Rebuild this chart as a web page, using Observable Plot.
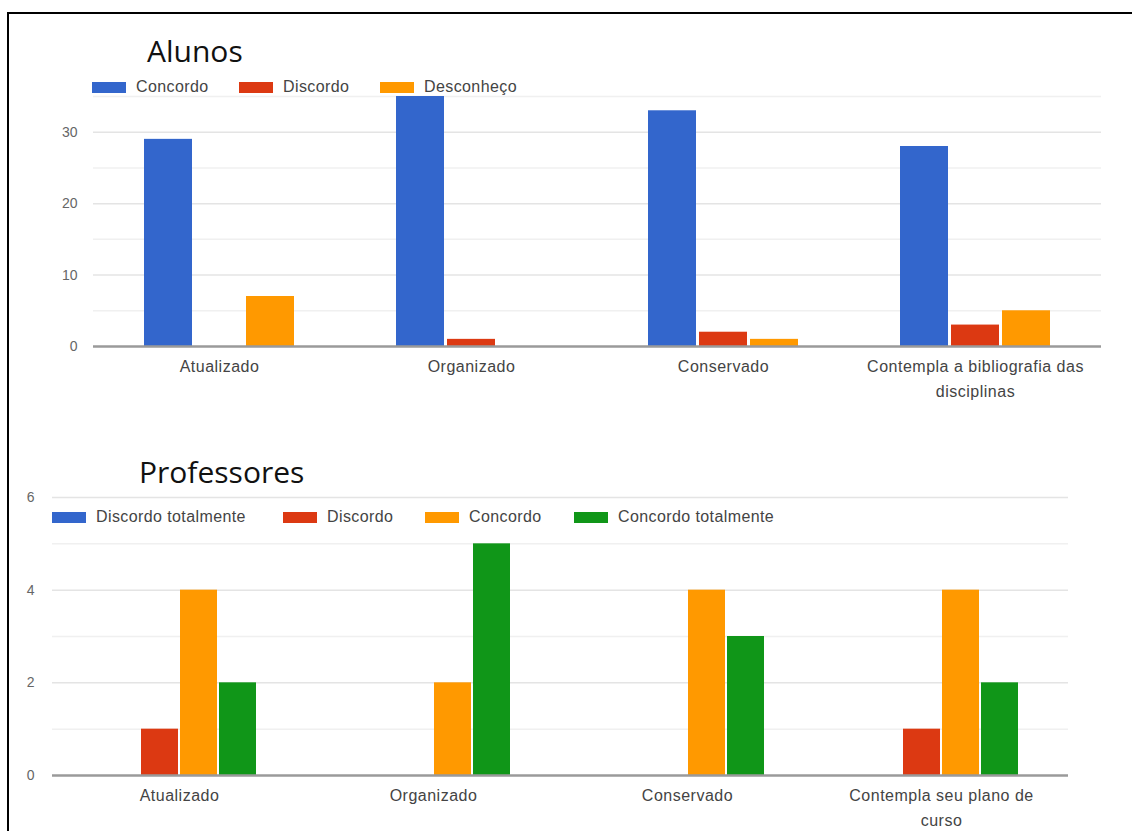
<!DOCTYPE html>
<html>
<head>
<meta charset="utf-8">
<script src="https://cdn.jsdelivr.net/npm/d3@7"></script>
<script src="https://cdn.jsdelivr.net/npm/@observablehq/plot@0.6"></script>
<style>
  html, body { margin: 0; padding: 0; background: #fff; }
  #page { position: relative; width: 1132px; height: 831px; overflow: hidden; background: #fff; }
  #frame { position: absolute; left: 7px; top: 12px; width: 1140px; height: 900px; border-left: 2px solid #000; border-top: 2px solid #000; }
  .chart { position: absolute; left: 0; }
  .chart svg g[aria-label="fx-axis tick label"] text { letter-spacing: 0.5px; }
  .title { position: absolute; font-family: "Open Sans", "Noto Sans", sans-serif; font-size: 30px; color: #111; line-height: 1; }
  .legend { position: absolute; font-family: "Liberation Sans", Arial, sans-serif; font-size: 16px; letter-spacing: 0.4px; color: #444; white-space: nowrap; height: 20px; }
  .legend .item { display: flex; align-items: center; position: absolute; top: 0; height: 20px; }
  .legend .sw { display: inline-block; width: 34px; height: 11px; margin-right: 10px; }
</style>
</head>
<body>
<div id="page">
  <div id="frame"></div>
  <div id="top" class="chart" style="top:0px"></div>
  <div id="bottom" class="chart" style="top:420px"></div>
  <div class="title" style="left:147px; top:36px">Alunos</div>
  <div class="title" style="left:139px; top:457px">Professores</div>
  <div id="legTop" class="legend" style="left:0; top:77px"></div>
  <div id="legBottom" class="legend" style="left:0; top:507px"></div>
</div>
<script>
// ---------- Data ----------
const alunosCategories = ["Atualizado", "Organizado", "Conservado", "Contempla a bibliografia das disciplinas"];
const alunosLabels = ["Atualizado", "Organizado", "Conservado", "Contempla a bibliografia das\ndisciplinas"];
const alunosSeries = ["Concordo", "Discordo", "Desconheço"];
const alunosConcordo = [29, 35, 33, 28];
const alunosDiscordo = [0, 1, 2, 3];
const alunosDesconheco = [7, 0, 1, 5];
const alunosColors = ["#3366cc", "#dc3912", "#ff9900"];

const profCategories = ["Atualizado", "Organizado", "Conservado", "Contempla seu plano de curso"];
const profLabels = ["Atualizado", "Organizado", "Conservado", "Contempla seu plano de\ncurso"];
const profSeries = ["Discordo totalmente", "Discordo", "Concordo", "Concordo totalmente"];
const profDiscordoTotalmente = [0, 0, 0, 0];
const profDiscordo = [1, 0, 0, 1];
const profConcordo = [4, 2, 4, 4];
const profConcordoTotalmente = [2, 5, 3, 2];
const profColors = ["#3366cc", "#dc3912", "#ff9900", "#109618"];

const alunosTicks = [0, 10, 20, 30];
const alunosMajor = [10, 20, 30];
const alunosMinor = [5, 15, 25, 35];
const profTicks = [0, 2, 4, 6];
const profMajor = [2, 4, 6];
const profMinor = [1, 3, 5];

function toTable(categories, series, valueArrays) {
  const rows = [];
  categories.forEach((c, i) => series.forEach((s, j) => rows.push({category: c, series: s, value: valueArrays[j][i]})));
  return rows;
}

const alunosData = toTable(alunosCategories, alunosSeries, [alunosConcordo, alunosDiscordo, alunosDesconheco]);
const profData = toTable(profCategories, profSeries, [profDiscordoTotalmente, profDiscordo, profConcordo, profConcordoTotalmente]);

function groupedChart({data, categories, labels, series, colors, width, height, margins, yDomain, ticks, majorGrid, minorGrid, paddingOuter, yPad}) {
  const labelOf = new Map(categories.map((c, i) => [c, labels[i]]));
  return Plot.plot({
    width, height,
    marginLeft: margins.left, marginRight: margins.right, marginTop: margins.top, marginBottom: margins.bottom,
    style: {fontFamily: "'Liberation Sans', Arial, sans-serif", fontSize: "16px", color: "#444", background: "transparent"},
    fx: {domain: categories, padding: 0, label: null},
    x: {domain: series, axis: null, paddingInner: 0.05, paddingOuter},
    y: {domain: yDomain, label: null},
    color: {domain: series, range: colors},
    marks: [
      Plot.ruleY(minorGrid, {stroke: "#f0f0f0", strokeWidth: 1.5}),
      Plot.ruleY(majorGrid, {stroke: "#e4e4e4", strokeWidth: 1.5}),
      Plot.barY(data, {fx: "category", x: "series", y: "value", fill: "series"}),
      Plot.ruleY([0], {stroke: "#9a9a9a", strokeWidth: 2.5}),
      Plot.axisY({ticks, tickSize: 0, tickPadding: yPad, fill: "#666", fontSize: 14, label: null, tickFormat: "d"}),
      Plot.axisFx({anchor: "bottom", tickSize: 0, tickPadding: 8, fill: "#444", label: null, tickFormat: (d) => labelOf.get(d), lineHeight: 1.55})
    ]
  });
}

document.getElementById("top").appendChild(groupedChart({
  data: alunosData, categories: alunosCategories, labels: alunosLabels, series: alunosSeries, colors: alunosColors,
  width: 1132, height: 410, margins: {left: 92, right: 30, top: 96, bottom: 64},
  yDomain: [0, 35], ticks: alunosTicks, majorGrid: alunosMajor, minorGrid: alunosMinor, paddingOuter: 0.98, yPad: 16
}));

document.getElementById("bottom").appendChild(groupedChart({
  data: profData, categories: profCategories, labels: profLabels, series: profSeries, colors: profColors,
  width: 1132, height: 411, margins: {left: 52, right: 64, top: 77, bottom: 56},
  yDomain: [0, 6], ticks: profTicks, majorGrid: profMajor, minorGrid: profMinor, paddingOuter: 1.28, yPad: 18
}));

function legend(el, series, colors, positions) {
  series.forEach((s, i) => {
    const item = document.createElement("div");
    item.className = "item";
    item.style.left = positions[i] + "px";
    const sw = document.createElement("span");
    sw.className = "sw";
    sw.style.background = colors[i];
    item.appendChild(sw);
    item.appendChild(document.createTextNode(s));
    el.appendChild(item);
  });
}
legend(document.getElementById("legTop"), alunosSeries, alunosColors, [92, 239, 380]);
legend(document.getElementById("legBottom"), profSeries, profColors, [52, 283, 425, 574]);
</script>
</body>
</html>
